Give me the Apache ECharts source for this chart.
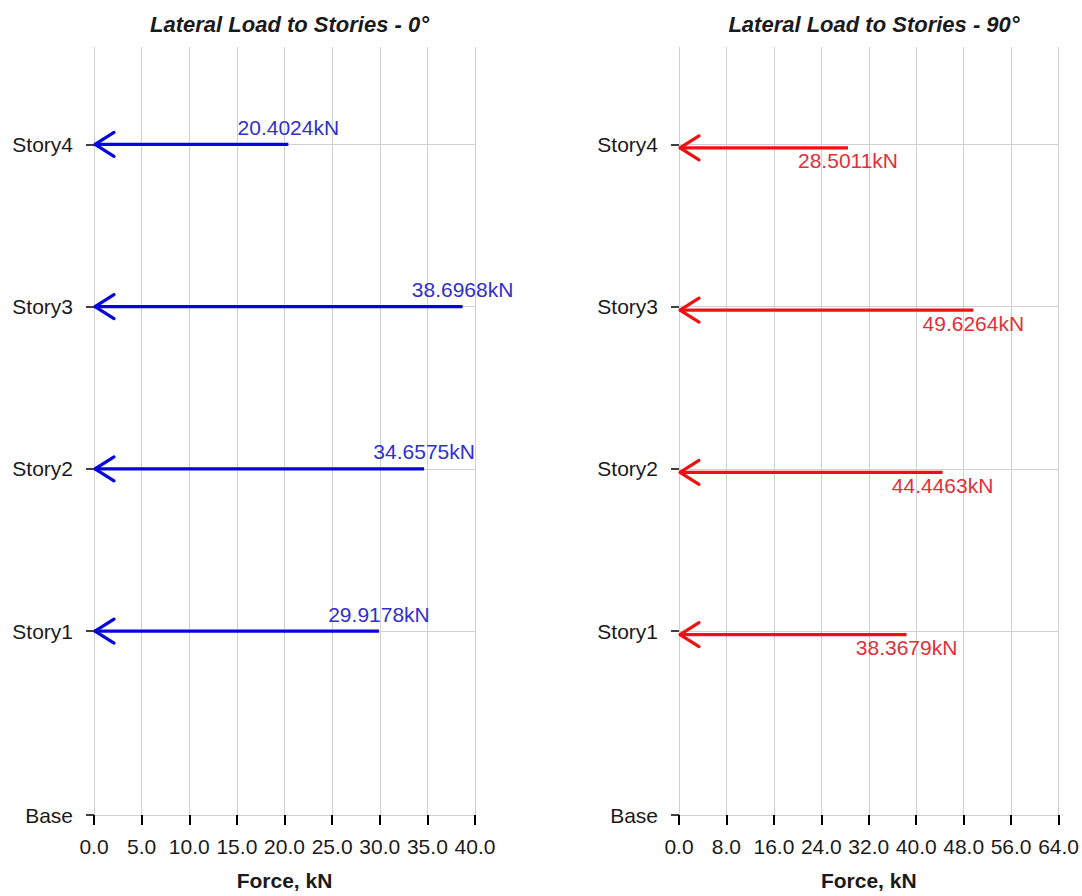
<!DOCTYPE html>
<html>
<head>
<meta charset="utf-8">
<script src="https://cdn.jsdelivr.net/npm/echarts@6/dist/echarts.min.js"></script>
<style>
html,body{margin:0;padding:0;background:#fff;}
#chart{width:1082px;height:896px;}
</style>
</head>
<body>
<div id="chart"></div>
<script>
// ---- data ----
const stories = ['Base', 'Story1', 'Story2', 'Story3', 'Story4'];
const elevations = [0, 3.4, 6.4, 9.4, 12.4];
const loadStories = ['Story1', 'Story2', 'Story3', 'Story4'];
const load0 = [29.9178, 34.6575, 38.6968, 20.4024];
const load90 = [38.3679, 44.4463, 49.6264, 28.5011];
const titles = ['Lateral Load to Stories - 0°', 'Lateral Load to Stories - 90°'];
const xAxisName = 'Force, kN';
const xMax0 = 40, xInterval0 = 5;
const xMax90 = 64, xInterval90 = 8;
const yMax = 14.2;

const FONT = '"Liberation Sans", Arial, sans-serif';
const FS = 21;

function elevOf(name) { return elevations[stories.indexOf(name)]; }
const data0 = loadStories.map((s, i) => [load0[i], elevOf(s)]);
const data90 = loadStories.map((s, i) => [load90[i], elevOf(s)]);

function makeRender(color, textColor, above, dy) {
  return function (params, api) {
    const v = api.value(0), e = api.value(1);
    const pEnd = api.coord([v, e]);
    const p0 = api.coord([0, e]);
    const y = p0[1] + dy;
    return {
      type: 'group',
      children: [
        { type: 'line', shape: { x1: pEnd[0], y1: y, x2: p0[0], y2: y },
          style: { stroke: color, lineWidth: 3.2, lineCap: 'butt' } },
        { type: 'polyline', shape: { points: [[p0[0] + 20, y - 12], [p0[0] + 1, y], [p0[0] + 20, y + 12]] },
          style: { stroke: color, lineWidth: 3.2, fill: null, lineCap: 'round', lineJoin: 'round' } },
        { type: 'text', x: pEnd[0], y: above ? p0[1] - 17 : y + 13,
          style: { text: v.toFixed(4) + 'kN', fill: textColor, font: FS + 'px ' + FONT,
                   align: 'center', verticalAlign: 'middle' } }
      ]
    };
  };
}

function xAxis(gridIndex, max, interval) {
  return {
    type: 'value', gridIndex: gridIndex, min: 0, max: max, interval: interval,
    name: xAxisName, nameLocation: 'middle', nameGap: 55,
    nameTextStyle: { fontFamily: FONT, fontSize: FS, fontWeight: 'bold', color: '#1a1a1a' },
    axisLine: { show: false },
    axisTick: { show: true, length: 10, lineStyle: { color: '#000', width: 2 } },
    axisLabel: { margin: 21, fontFamily: FONT, fontSize: FS, color: '#1a1a1a',
                 formatter: v => v.toFixed(1) },
    splitLine: { show: true, lineStyle: { color: '#d0d0d0', width: 1 } }
  };
}
function yAxis(gridIndex) {
  return {
    type: 'value', gridIndex: gridIndex, min: 0, max: yMax,
    axisLine: { show: false },
    axisTick: { show: true, length: 8, customValues: elevations, lineStyle: { color: '#000', width: 1.5 } },
    axisLabel: { margin: 21, fontFamily: FONT, fontSize: FS, color: '#1a1a1a', customValues: elevations,
                 formatter: v => { const i = elevations.findIndex(e => Math.abs(e - v) < 1e-6); return i >= 0 ? stories[i] : ''; } },
    splitLine: { show: true, lineStyle: { color: '#d0d0d0', width: 1 } }
  };
}

const chart = echarts.init(document.getElementById('chart'), null, { renderer: 'svg' });
chart.setOption({
  backgroundColor: '#ffffff',
  animation: false,
  title: [
    { text: titles[0], left: 284.5, top: 8, textAlign: 'center',
      textStyle: { fontFamily: FONT, fontSize: 22, fontWeight: 'bold', fontStyle: 'italic', color: '#1a1a1a' } },
    { text: titles[1], left: 869, top: 8, textAlign: 'center',
      textStyle: { fontFamily: FONT, fontSize: 22, fontWeight: 'bold', fontStyle: 'italic', color: '#1a1a1a' } }
  ],
  grid: [
    { left: 94, right: 607, top: 47, bottom: 78.5 },
    { left: 679, right: 23, top: 47, bottom: 78.5 }
  ],
  xAxis: [xAxis(0, xMax0, xInterval0), xAxis(1, xMax90, xInterval90)],
  yAxis: [yAxis(0), yAxis(1)],
  series: [
    { type: 'custom', xAxisIndex: 0, yAxisIndex: 0, data: data0,
      renderItem: makeRender('#0505dc', '#3030cc', true, 0) },
    { type: 'custom', xAxisIndex: 1, yAxisIndex: 1, data: data90,
      renderItem: makeRender('#ee1111', '#e0303a', false, 3.5) }
  ]
});
</script>
</body>
</html>
